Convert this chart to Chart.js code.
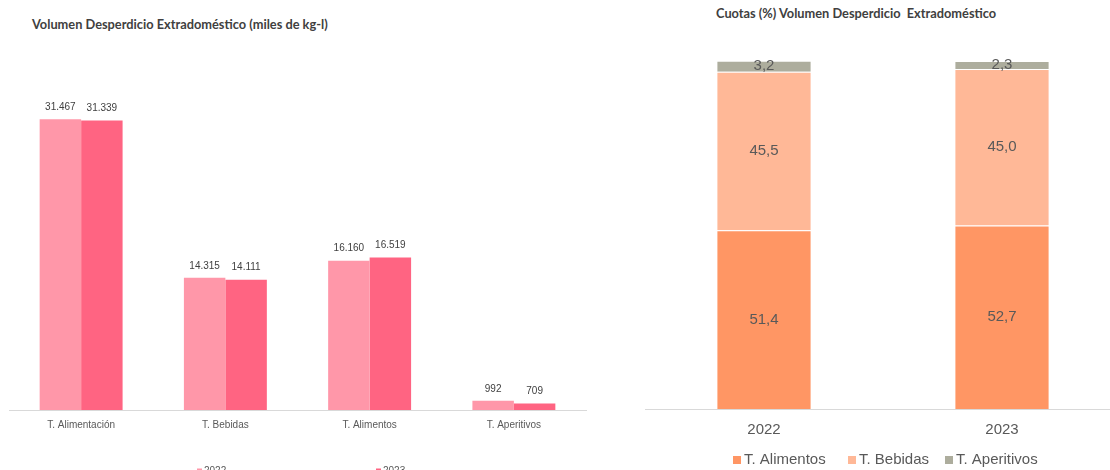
<!DOCTYPE html>
<html lang="es">
<head>
<meta charset="utf-8">
<title>Desperdicio Extradoméstico</title>
<script src="https://cdn.jsdelivr.net/npm/chart.js@4/dist/chart.umd.min.js"></script>
<style>
  html, body { margin: 0; padding: 0; background: #fff; }
  #wrap { position: relative; width: 1110px; height: 470px; overflow: hidden; background: #fff; }
  canvas { position: absolute; top: 0; }
  #cv-vol { left: 0; }
  #cv-cuotas { left: 620px; }
  .ttl { position: absolute; font-family: Lato, "Open Sans", sans-serif; font-weight: 700; font-size: 12.8px; color: #404040; white-space: pre; line-height: 1; }
  #ttl-vol { left: 32px; top: 18px; }
  #ttl-cuotas { left: 716px; top: 7px; }
</style>
</head>
<body>
<div id="wrap">
  <div class="ttl" id="ttl-vol">Volumen Desperdicio Extradoméstico (miles de kg-l)</div>
  <div class="ttl" id="ttl-cuotas">Cuotas (%) Volumen Desperdicio  Extradoméstico</div>
  <canvas id="cv-vol" width="600" height="490"></canvas>
  <canvas id="cv-cuotas" width="520" height="490"></canvas>
</div>
<script>
// Volumen por categoría (miles de kg-l)
const categorias = ['T. Alimentación', 'T. Bebidas', 'T. Alimentos', 'T. Aperitivos'];
const vol2022 = [31467, 14315, 16160, 992];
const vol2023 = [31339, 14111, 16519, 709];

// Cuotas (%) por año
const anios = ['2022', '2023'];
const cuotaAlimentos = [51.4, 52.7];
const cuotaBebidas = [45.5, 45.0];
const cuotaAperitivos = [3.2, 2.3];

const FONT = '"Liberation Sans", Arial, sans-serif';

function miles(v) {
  return String(Math.round(v)).replace(/\B(?=(\d{3})+(?!\d))/g, '.');
}
function decimal(v) {
  return v.toFixed(1).replace('.', ',');
}

// Etiquetas de valor sobre cada barra (o centradas en cada tramo apilado)
const valueLabels = {
  id: 'valueLabels',
  afterDatasetsDraw(chart, args, opts) {
    const ctx = chart.ctx;
    ctx.save();
    ctx.font = opts.font;
    ctx.fillStyle = opts.color;
    ctx.textAlign = 'center';
    ctx.textBaseline = 'middle';
    chart.data.datasets.forEach((ds, i) => {
      const meta = chart.getDatasetMeta(i);
      if (meta.hidden) return;
      meta.data.forEach((el, j) => {
        const v = ds.data[j];
        const y = opts.mode === 'center' ? (el.y + el.base) / 2 : el.y - opts.offset;
        ctx.fillText(opts.format(v), el.x, y);
      });
    });
    ctx.restore();
  }
};

// Leyenda con marcadores cuadrados en posiciones fijas
const spacedLegend = {
  id: 'spacedLegend',
  afterDraw(chart, args, opts) {
    if (!opts.items) return;
    const ctx = chart.ctx;
    ctx.save();
    ctx.font = opts.font;
    ctx.textBaseline = 'middle';
    ctx.textAlign = 'left';
    chart.data.datasets.forEach((ds, i) => {
      const x = opts.items[i];
      ctx.fillStyle = ds.backgroundColor;
      ctx.fillRect(x, opts.y - opts.box / 2, opts.box, opts.box);
      ctx.fillStyle = opts.color;
      ctx.fillText(ds.label, x + opts.box + opts.gap, opts.y);
    });
    ctx.restore();
  }
};

new Chart(document.getElementById('cv-vol'), {
  type: 'bar',
  data: {
    labels: categorias,
    datasets: [
      { label: '2022', data: vol2022, backgroundColor: '#FF97A9', borderWidth: 0 },
      { label: '2023', data: vol2023, backgroundColor: '#FF6482', borderWidth: 0 }
    ]
  },
  options: {
    responsive: false,
    devicePixelRatio: 1,
    animation: false,
    layout: { padding: { left: 9, right: 14, top: 59, bottom: 50 } },
    datasets: { bar: { categoryPercentage: 0.575, barPercentage: 1 } },
    scales: {
      x: {
        grid: { display: false },
        border: { display: true, color: '#D9D9D9', width: 1 },
        ticks: { color: '#595959', font: { family: FONT, size: 10 }, padding: 1, maxRotation: 0 },
        afterFit(s) { s.height = 30; }
      },
      y: { display: false, min: 0, max: 38000 }
    },
    plugins: {
      legend: { display: false },
      tooltip: { enabled: false },
      valueLabels: { font: '10px ' + FONT, color: '#404040', offset: 12, mode: 'top', format: miles },
      spacedLegend: { items: [197, 376], y: 471, box: 5, gap: 2, font: '10px ' + FONT, color: '#595959' }
    }
  },
  plugins: [valueLabels, spacedLegend]
});

new Chart(document.getElementById('cv-cuotas'), {
  type: 'bar',
  data: {
    labels: anios,
    datasets: [
      { label: 'T. Alimentos', data: cuotaAlimentos, backgroundColor: '#FF9664', borderColor: 'rgba(255,255,255,0.3)', borderWidth: 1 },
      { label: 'T. Bebidas', data: cuotaBebidas, backgroundColor: '#FFB897', borderColor: 'rgba(255,255,255,0.3)', borderWidth: 1 },
      { label: 'T. Aperitivos', data: cuotaAperitivos, backgroundColor: '#ADAD9D', borderColor: 'rgba(255,255,255,0.3)', borderWidth: 1 }
    ]
  },
  options: {
    responsive: false,
    devicePixelRatio: 1,
    animation: false,
    layout: { padding: { left: 25, right: 19, top: 61, bottom: 51 } },
    datasets: { bar: { categoryPercentage: 1, barPercentage: 0.4 } },
    scales: {
      x: {
        stacked: true,
        grid: { display: false },
        border: { display: true, color: '#D9D9D9', width: 1 },
        ticks: { color: '#595959', font: { family: FONT, size: 15 }, padding: 4, maxRotation: 0 },
        afterFit(s) { s.height = 30; }
      },
      y: { stacked: true, display: false, min: 0, max: 100 }
    },
    plugins: {
      legend: { display: false },
      tooltip: { enabled: false },
      valueLabels: { font: '15px ' + FONT, color: '#595959', offset: 0, mode: 'center', format: decimal },
      spacedLegend: { items: [113, 228, 325], y: 460, box: 8, gap: 3, font: '15px ' + FONT, color: '#595959' }
    }
  },
  plugins: [valueLabels, spacedLegend]
});
</script>
</body>
</html>
